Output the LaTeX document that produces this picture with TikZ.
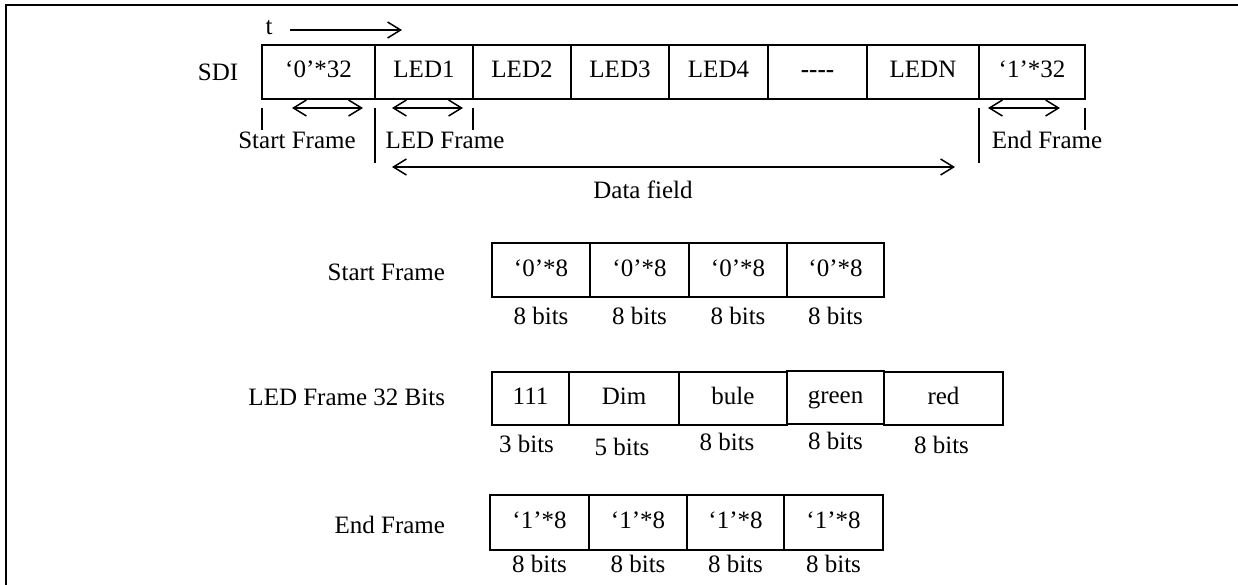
\documentclass[tikz,border=0pt]{standalone}
\usepackage{fontspec}
\setmainfont{Liberation Serif}
\usetikzlibrary{arrows.meta,positioning}

\begin{document}
\begin{tikzpicture}[x=1pt,y=-1pt,every node/.style={font=\fontsize{25}{30}\selectfont,inner sep=0pt,outer sep=0pt},cell/.style={draw,line width=2pt,minimum height=54pt,anchor=west,text height=17pt,text depth=5pt},dblarrow/.style={{Straight Barb[length=13pt,width=16pt]}-{Straight Barb[length=13pt,width=16pt]},line width=1.5pt},onearrow/.style={-{Straight Barb[length=13pt,width=16pt]},line width=1.5pt},tickline/.style={line width=1.2pt},rowlabel/.style={anchor=east}]
\useasboundingbox (0,0) rectangle (1238,585);
\draw[line width=2pt] (6,585) -- (6,5) -- (1238,5);
% SDI stream
\node (sdi) at (218,72) {SDI};
\node (t) at (269,28) {t};
\coordinate (t1) at (290,30);
\coordinate (t2) at (402,30);
\draw[onearrow] (t1)--(t2);
\node[cell,minimum width=113pt] (s0) at (262,72) {`0'*32};
\node[cell,minimum width=98pt,right=0pt of s0] (s1) {LED1};
\node[cell,minimum width=98pt,right=0pt of s1] (s2) {LED2};
\node[cell,minimum width=98pt,right=0pt of s2] (s3) {LED3};
\node[cell,minimum width=99pt,right=0pt of s3] (s4) {LED4};
\node[cell,minimum width=99pt,right=0pt of s4] (s5) {\textbf{-{}-{}-{}-}};
\node[cell,minimum width=112pt,right=0pt of s5] (s6) {LEDN};
\node[cell,minimum width=106pt,right=0pt of s6] (s7) {`1'*32};
% frame spans
\coordinate (sf1) at (292,108); \coordinate (sf2) at (363,108);
\coordinate (lf1) at (392,108); \coordinate (lf2) at (463,108);
\coordinate (ef1) at (988,108); \coordinate (ef2) at (1060,108);
\coordinate (df1) at (392,167); \coordinate (df2) at (955,167);
\draw[dblarrow] (sf1)--(sf2);
\draw[dblarrow] (lf1)--(lf2);
\draw[dblarrow] (ef1)--(ef2);
\draw[dblarrow] (df1)--(df2);
\draw[tickline] ([yshift=-9pt]s0.south west)--++(0,22);
\draw[tickline] ([yshift=-9pt]s0.south east)--++(0,55);
\draw[tickline] ([yshift=-9pt]s1.south east)--++(0,22);
\draw[tickline] ([yshift=-9pt]s6.south east)--++(0,55);
\draw[tickline] ([yshift=-9pt]s7.south east)--++(0,22);
\node (sfl) at (297,140) {Start Frame};
\node (lfl) at (445,140) {LED Frame};
\node (efl) at (1047,140) {End Frame};
\node (dfl) at (643,190) {Data field};
% start frame
\node[rowlabel] (startl) at (445,272) {Start Frame};
\node[cell,minimum width=98pt] (a0) at (492,270) {`0'*8};
\node[cell,minimum width=99pt,right=0pt of a0] (a1) {`0'*8};
\node[cell,minimum width=98pt,right=0pt of a1] (a2) {`0'*8};
\node[cell,minimum width=97pt,right=0pt of a2] (a3) {`0'*8};
\node[below=10pt of a0] (a0b) {8 bits};
\node[below=10pt of a1] (a1b) {8 bits};
\node[below=10pt of a2] (a2b) {8 bits};
\node[below=10pt of a3] (a3b) {8 bits};
% LED frame
\node[rowlabel] (ledl) at (445,397) {LED Frame 32 Bits};
\node[cell,minimum width=77pt,minimum height=53pt] (b0) at (492,398.5) {111};
\node[cell,minimum width=110pt,minimum height=53pt,right=0pt of b0] (b1) {Dim};
\node[cell,minimum width=108pt,minimum height=53pt,right=0pt of b1] (b2) {bule};
\node[cell,minimum width=97pt,minimum height=53pt,right=0pt of b2,yshift=1.5pt] (b3) {green};
\node[cell,minimum width=119pt,minimum height=53pt,right=0pt of b3,yshift=-1.5pt] (b4) {red};
\node[below=10pt of b0,xshift=-4pt] (b0b) {3 bits};
\node[below=13pt of b1,xshift=-2pt] (b1b) {5 bits};
\node[below=8pt of b2,xshift=-6pt] (b2b) {8 bits};
\node[below=9pt of b3] (b3b) {8 bits};
\node[below=11pt of b4,xshift=-2pt] (b4b) {8 bits};
% end frame
\node[rowlabel] (endl) at (445,525) {End Frame};
\node[cell,minimum width=99pt,minimum height=55pt] (c0) at (490,522.5) {`1'*8};
\node[cell,minimum width=98pt,minimum height=55pt,right=0pt of c0] (c1) {`1'*8};
\node[cell,minimum width=97pt,minimum height=55pt,right=0pt of c1] (c2) {`1'*8};
\node[cell,minimum width=99pt,minimum height=55pt,right=0pt of c2] (c3) {`1'*8};
\node[below=5pt of c0] (c0b) {8 bits};
\node[below=5pt of c1] (c1b) {8 bits};
\node[below=5pt of c2] (c2b) {8 bits};
\node[below=5pt of c3] (c3b) {8 bits};
\end{tikzpicture}
\end{document}
